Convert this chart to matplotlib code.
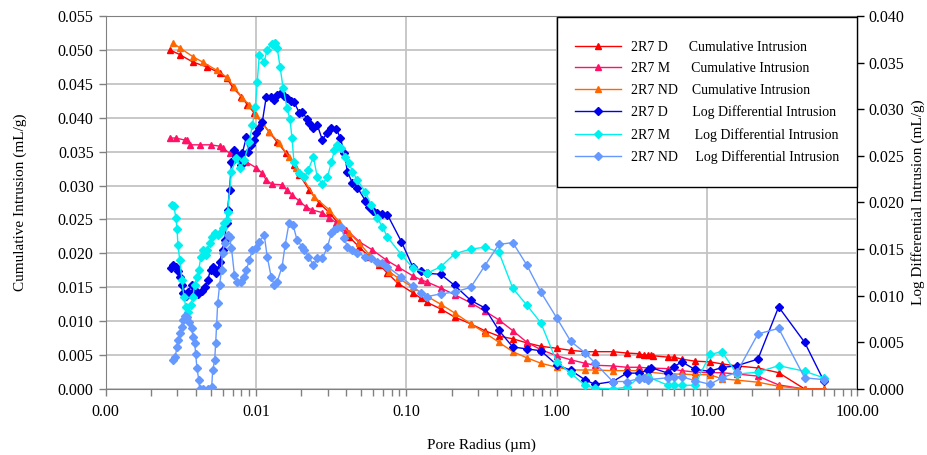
import matplotlib
matplotlib.use("Agg")
import matplotlib.pyplot as plt
from matplotlib.ticker import FormatStrFormatter, LogLocator, MultipleLocator
from matplotlib.patches import Rectangle

plt.rcParams['font.family'] = ['Liberation Serif', 'DejaVu Serif']

# cumulative intrusion (mL/g), left axis
d_cum_r = [0.00268, 0.00312, 0.00381, 0.00471, 0.00574, 0.00638, 0.00699, 0.00801, 0.00878, 0.00976,
           0.01085, 0.01226, 0.01384, 0.01586, 0.01792, 0.01944, 0.02267, 0.02642, 0.03079, 0.03589,
           0.04183, 0.04875, 0.05682, 0.06622, 0.07484, 0.0877, 0.1103, 0.1247, 0.1367, 0.1693,
           0.2099, 0.2683, 0.3323, 0.4119, 0.5105, 0.6326, 0.7839, 1.002, 1.241, 1.538,
           1.793, 2.362, 2.927, 3.518, 3.797, 4.037, 4.228, 4.360, 5.485, 6.013,
           6.798, 8.296, 10.44, 12.55, 15.79, 21.78, 29.91, 44.54, 59.6]
d_cum_v = [0.0500, 0.0493, 0.0482, 0.0475, 0.0466, 0.0459, 0.0445, 0.0431, 0.0419, 0.0407,
           0.0394, 0.0379, 0.0364, 0.0348, 0.0330, 0.0316, 0.0293, 0.0274, 0.0260, 0.0242,
           0.0224, 0.0209, 0.0195, 0.0183, 0.0171, 0.0156, 0.0142, 0.0134, 0.0128, 0.0118,
           0.0106, 0.0096, 0.0086, 0.0078, 0.0074, 0.0068, 0.0063, 0.0060, 0.0057, 0.0055,
           0.0055, 0.0055, 0.0053, 0.0052, 0.0050, 0.0050, 0.0050, 0.0049, 0.0047, 0.0047,
           0.0044, 0.0041, 0.0040, 0.0037, 0.0034, 0.0031, 0.0024, 0.0, 0.0]

m_cum_r = [0.00270, 0.00294, 0.00337, 0.00347, 0.00364, 0.00423, 0.00500, 0.00574, 0.00600, 0.00668,
           0.00777, 0.00864, 0.01006, 0.01102, 0.01171, 0.01283, 0.01493, 0.01611, 0.01738, 0.01944,
           0.02164, 0.02373, 0.02766, 0.03079, 0.03427, 0.03995, 0.04875, 0.05949, 0.0737, 0.0877,
           0.1103, 0.1247, 0.1367, 0.1693, 0.2099, 0.2683, 0.3323, 0.4119, 0.5105, 0.6326,
           0.7839, 1.002, 1.241, 1.538, 1.793, 2.362, 2.927, 3.518, 4.037, 5.485,
           6.798, 8.296, 10.44, 12.55, 15.79, 21.78, 29.91, 44.54, 59.6]
m_cum_v = [0.0370, 0.0370, 0.0367, 0.0367, 0.0360, 0.0360, 0.0360, 0.0358, 0.0355, 0.0348,
           0.0341, 0.0335, 0.0326, 0.0318, 0.0308, 0.0302, 0.0301, 0.0293, 0.0286, 0.0277,
           0.0268, 0.0264, 0.0260, 0.0252, 0.0245, 0.0235, 0.0217, 0.0205, 0.0190, 0.0180,
           0.0167, 0.0161, 0.0158, 0.0149, 0.0139, 0.0127, 0.0115, 0.0102, 0.0086, 0.0069,
           0.0058, 0.0049, 0.0043, 0.0038, 0.0035, 0.0034, 0.0032, 0.0032, 0.0031, 0.0030,
           0.0027, 0.0025, 0.0024, 0.0024, 0.0022, 0.0019, 0.0006, 0.0, 0.0]

nd_cum_r = [0.00281, 0.00312, 0.00381, 0.00443, 0.00548, 0.00638, 0.00720, 0.00813, 0.00905, 0.01006,
            0.01102, 0.01226, 0.01427, 0.01661, 0.01848, 0.01944, 0.02447, 0.03079, 0.03589, 0.04183,
            0.04875, 0.05682, 0.06622, 0.0772, 0.0877, 0.1103, 0.1367, 0.1693, 0.2099, 0.2683,
            0.3323, 0.4119, 0.5105, 0.6326, 0.7839, 1.002, 1.241, 1.538, 1.793, 2.362,
            2.927, 3.518, 4.037, 5.485, 6.798, 8.296, 10.44, 12.55, 15.79, 21.78,
            29.91, 44.54, 59.6]
nd_cum_v = [0.0510, 0.0503, 0.0490, 0.0482, 0.0470, 0.0460, 0.0445, 0.0429, 0.0419, 0.0404,
            0.0392, 0.0379, 0.0363, 0.0342, 0.0326, 0.0320, 0.0283, 0.0264, 0.0246, 0.0230,
            0.0215, 0.0198, 0.0186, 0.0173, 0.0164, 0.0150, 0.0137, 0.0125, 0.0112, 0.0096,
            0.0083, 0.0069, 0.0055, 0.0046, 0.0038, 0.0032, 0.0028, 0.0028, 0.0028, 0.0027,
            0.0027, 0.0027, 0.0025, 0.0022, 0.0022, 0.0021, 0.0021, 0.0015, 0.0013, 0.0010,
            0.0004, 0.0, 0.0]

# log differential intrusion (mL/g), right axis
d_log_r = [0.00272, 0.00281, 0.00294, 0.00303, 0.00312, 0.00322, 0.00327, 0.00342, 0.00353, 0.00375,
           0.00392, 0.00411, 0.00436, 0.00457, 0.00478, 0.00500, 0.00516, 0.00540, 0.00557, 0.00574,
           0.00600, 0.00619, 0.00638, 0.00648, 0.00668, 0.00688, 0.00720, 0.00754, 0.00801, 0.00813,
           0.00864, 0.00891, 0.00933, 0.00976, 0.01006, 0.01053, 0.01102, 0.01171, 0.01264, 0.01323,
           0.01384, 0.01471, 0.01539, 0.01611, 0.01712, 0.01792, 0.01944, 0.02035, 0.02198, 0.02267,
           0.02410, 0.02562, 0.02766, 0.02985, 0.03175, 0.03427, 0.03644, 0.03875, 0.04057, 0.04380,
           0.04728, 0.05346, 0.05682, 0.06040, 0.06422, 0.06934, 0.07484, 0.09278, 0.1103, 0.1247,
           0.1367, 0.1693, 0.2099, 0.2683, 0.3323, 0.4119, 0.5105, 0.6326, 0.7839, 1.002,
           1.241, 1.538, 1.793, 2.362, 2.927, 3.518, 4.037, 4.228, 5.485, 6.013,
           6.798, 8.296, 10.44, 12.55, 15.79, 21.78, 29.91, 44.54, 59.6]
d_log_v = [0.0130, 0.0133, 0.0131, 0.0126, 0.0120, 0.0112, 0.0103, 0.0100, 0.0104, 0.0112,
           0.0106, 0.0102, 0.0105, 0.0109, 0.0117, 0.0128, 0.0131, 0.0124, 0.0128, 0.0136,
           0.0149, 0.0160, 0.0178, 0.0192, 0.0213, 0.0243, 0.0256, 0.0251, 0.0240, 0.0253,
           0.0270, 0.0254, 0.0262, 0.0267, 0.0275, 0.0280, 0.0286, 0.0313, 0.0313, 0.0310,
           0.0315, 0.0317, 0.0314, 0.0312, 0.0309, 0.0308, 0.0296, 0.0297, 0.0289, 0.0285,
           0.0280, 0.0283, 0.0267, 0.0275, 0.0280, 0.0279, 0.0269, 0.0253, 0.0233, 0.0221,
           0.0216, 0.0202, 0.0195, 0.0191, 0.0189, 0.0188, 0.0187, 0.0158, 0.0131, 0.0127,
           0.0124, 0.0123, 0.0111, 0.0095, 0.0087, 0.0063, 0.0045, 0.0043, 0.0041, 0.0026,
           0.0020, 0.0010, 0.0005, 0.0008, 0.0017, 0.0017, 0.0020, 0.0023, 0.0017, 0.0024,
           0.0029, 0.0021, 0.0019, 0.0023, 0.0025, 0.0032, 0.0088, 0.0050, 0.0009]

m_log_r = [0.00277, 0.00285, 0.00294, 0.00299, 0.00303, 0.00312, 0.00322, 0.00332, 0.00342, 0.00353,
           0.00369, 0.00381, 0.00392, 0.00405, 0.00417, 0.00430, 0.00443, 0.00464, 0.00471, 0.00493,
           0.00508, 0.00532, 0.00557, 0.00574, 0.00600, 0.00610, 0.00638, 0.00648, 0.00688, 0.00742,
           0.00789, 0.00838, 0.00905, 0.00947, 0.00991, 0.01021, 0.01053, 0.01136, 0.01189, 0.01283,
           0.01343, 0.01384, 0.01449, 0.01516, 0.01611, 0.01686, 0.01738, 0.01792, 0.01944, 0.02099,
           0.02232, 0.02410, 0.02562, 0.02766, 0.02985, 0.03175, 0.03325, 0.03480, 0.03701, 0.03935,
           0.04183, 0.04380, 0.04728, 0.05346, 0.05859, 0.06422, 0.06934, 0.07484, 0.09278, 0.1103,
           0.1367, 0.1693, 0.2099, 0.2683, 0.3323, 0.4119, 0.5105, 0.6326, 0.7839, 1.002,
           1.241, 1.538, 1.793, 2.362, 2.927, 3.518, 4.037, 5.485, 6.013, 6.798,
           8.296, 10.44, 12.55, 15.79, 21.78, 29.91, 44.54, 59.6]
m_log_v = [0.0197, 0.0196, 0.0183, 0.0172, 0.0154, 0.0138, 0.0117, 0.0099, 0.0088, 0.0083,
           0.0090, 0.0099, 0.0112, 0.0120, 0.0128, 0.0141, 0.0149, 0.0144, 0.0149, 0.0157,
           0.0163, 0.0167, 0.0165, 0.0167, 0.0173, 0.0178, 0.0181, 0.0190, 0.0233, 0.0248,
           0.0237, 0.0246, 0.0265, 0.0283, 0.0302, 0.0329, 0.0358, 0.0351, 0.0364, 0.0370,
           0.0371, 0.0366, 0.0345, 0.0323, 0.0301, 0.0289, 0.0269, 0.0243, 0.0232, 0.0227,
           0.0235, 0.0249, 0.0227, 0.0220, 0.0227, 0.0243, 0.0256, 0.0262, 0.0258, 0.0249,
           0.0242, 0.0233, 0.0224, 0.0211, 0.0197, 0.0183, 0.0174, 0.0163, 0.0144, 0.0130,
           0.0124, 0.0131, 0.0145, 0.0150, 0.0152, 0.0147, 0.0108, 0.0090, 0.0071, 0.0029,
           0.0017, 0.0004, 0.0001, 0.0, 0.0002, 0.0012, 0.0013, 0.0004, 0.0004, 0.0004,
           0.0004, 0.0037, 0.0040, 0.0016, 0.0018, 0.0025, 0.0019, 0.0012]

nd_log_r = [0.00281, 0.00290, 0.00299, 0.00303, 0.00312, 0.00322, 0.00327, 0.00337, 0.00347, 0.00358,
            0.00375, 0.00381, 0.00392, 0.00398, 0.00405, 0.00417, 0.00423, 0.00443, 0.00478, 0.00508,
            0.00516, 0.00532, 0.00540, 0.00548, 0.00557, 0.00574, 0.00591, 0.00600, 0.00619, 0.00648,
            0.00668, 0.00688, 0.00720, 0.00754, 0.00801, 0.00838, 0.00864, 0.00905, 0.00947, 0.01006,
            0.01053, 0.01136, 0.01189, 0.01264, 0.01323, 0.01384, 0.01493, 0.01563, 0.01661, 0.01765,
            0.01876, 0.02035, 0.02099, 0.02232, 0.02410, 0.02562, 0.02766, 0.02985, 0.03175, 0.03325,
            0.03480, 0.03701, 0.03875, 0.04057, 0.04380, 0.04728, 0.05346, 0.05859, 0.06422, 0.06934,
            0.07484, 0.09278, 0.1103, 0.1247, 0.1367, 0.1693, 0.2099, 0.2683, 0.3323, 0.4119,
            0.5105, 0.6326, 0.7839, 1.002, 1.241, 1.538, 1.793, 2.362, 2.927, 3.518,
            3.797, 4.037, 5.485, 6.013, 6.798, 8.296, 10.44, 12.55, 15.79, 21.78,
            29.91, 44.54, 59.6]
nd_log_v = [0.0031, 0.0034, 0.0045, 0.0053, 0.0060, 0.0067, 0.0074, 0.0078, 0.0077, 0.0072,
            0.0065, 0.0056, 0.0049, 0.0037, 0.0023, 0.0010, 0.0, 0.0, 0.0, 0.0002,
            0.0020, 0.0031, 0.0049, 0.0069, 0.0092, 0.0112, 0.0128, 0.0146, 0.0157, 0.0165,
            0.0163, 0.0151, 0.0122, 0.0115, 0.0115, 0.0120, 0.0128, 0.0138, 0.0149, 0.0151,
            0.0158, 0.0165, 0.0142, 0.0120, 0.0112, 0.0115, 0.0131, 0.0154, 0.0178, 0.0176,
            0.0160, 0.0152, 0.0149, 0.0142, 0.0133, 0.0140, 0.0140, 0.0152, 0.0167, 0.0171,
            0.0173, 0.0174, 0.0162, 0.0152, 0.0149, 0.0146, 0.0142, 0.0140, 0.0136, 0.0135,
            0.0131, 0.0120, 0.0110, 0.0103, 0.0099, 0.0102, 0.0104, 0.0109, 0.0132, 0.0155,
            0.0157, 0.0133, 0.0104, 0.0076, 0.0051, 0.0039, 0.0028, 0.0008, 0.0008, 0.0011,
            0.0012, 0.0010, 0.0012, 0.0013, 0.0013, 0.0009, 0.0005, 0.0012, 0.0018, 0.0059,
            0.0065, 0.0012, 0.0010]

cum_series = [
    ("2R7 D      Cumulative Intrusion", d_cum_r, d_cum_v, "#ff0000"),
    ("2R7 M      Cumulative Intrusion", m_cum_r, m_cum_v, "#ff1166"),
    ("2R7 ND    Cumulative Intrusion", nd_cum_r, nd_cum_v, "#ff6600"),
]
log_series = [
    ("2R7 D       Log Differential Intrusion", d_log_r, d_log_v, "#0000ee"),
    ("2R7 M       Log Differential Intrusion", m_log_r, m_log_v, "#00f0f0"),
    ("2R7 ND     Log Differential Intrusion", nd_log_r, nd_log_v, "#6699ff"),
]

fig = plt.figure(figsize=(9.28, 4.55), dpi=100)
ax = fig.add_axes([0.1137, 0.1451, 0.8103, 0.8198])
ax2 = ax.twinx()

handles = []
for label, r, v, c in cum_series:
    h, = ax.plot(r, v, color=c, lw=1.0, marker="^", ms=5, mec=c, mfc=c, label=label)
    handles.append(h)
for label, r, v, c in log_series:
    h, = ax2.plot(r, v, color=c, lw=1.0, marker="D", ms=4, mec=c, mfc=c, label=label)
    handles.append(h)

ax.set_xscale("log")
ax.set_xlim(0.001, 100)
ax.set_ylim(0, 0.055)
ax2.set_ylim(0, 0.040)
ax.xaxis.set_major_locator(LogLocator(base=10))
ax.xaxis.set_minor_locator(LogLocator(base=10, subs=range(2, 10)))
ax.xaxis.set_major_formatter(FormatStrFormatter("%.2f"))
ax.yaxis.set_major_locator(MultipleLocator(0.005))
ax.yaxis.set_major_formatter(FormatStrFormatter("%.3f"))
ax2.yaxis.set_major_locator(MultipleLocator(0.005))
ax2.yaxis.set_major_formatter(FormatStrFormatter("%.3f"))

ax.grid(True, which="major", color="#c4c4c4", lw=1.3)
ax.set_axisbelow(True)

gray = "#808080"
for s in ("left", "bottom", "top"):
    ax.spines[s].set_color(gray)
ax.spines["right"].set_visible(False)
for s in ("left", "bottom", "top"):
    ax2.spines[s].set_visible(False)
ax2.spines["right"].set_color("black")

ax.tick_params(axis="both", which="both", direction="out", length=5, width=1,
               color=gray, labelsize=11.5)
ax.tick_params(axis="x", pad=6)
ax2.tick_params(axis="y", direction="out", length=5, width=1, color="black",
                labelsize=11.5, pad=3)

ax.set_xlabel("Pore Radius (µm)", fontsize=11, labelpad=13)
ax.set_ylabel("Cumulative Intrusion (mL/g)", fontsize=11, labelpad=22)
ax2.set_ylabel("Log Differential Intrusion (mL/g)", fontsize=11, labelpad=5)

box = Rectangle((0.6004, 0.5416), 0.399, 0.4557, transform=ax2.transAxes,
                facecolor="white", edgecolor="black", lw=1.0, zorder=8, clip_on=False)
ax2.add_patch(box)
leg = ax2.legend(handles, [h.get_label() for h in handles], loc="upper left",
                 bbox_to_anchor=(0.625, 0.934), frameon=False, fontsize=10,
                 handlelength=3.3, handletextpad=0.7, labelspacing=0.62,
                 borderpad=0, borderaxespad=0)
leg.set_zorder(10)

fig.savefig("out.png", dpi=100)
